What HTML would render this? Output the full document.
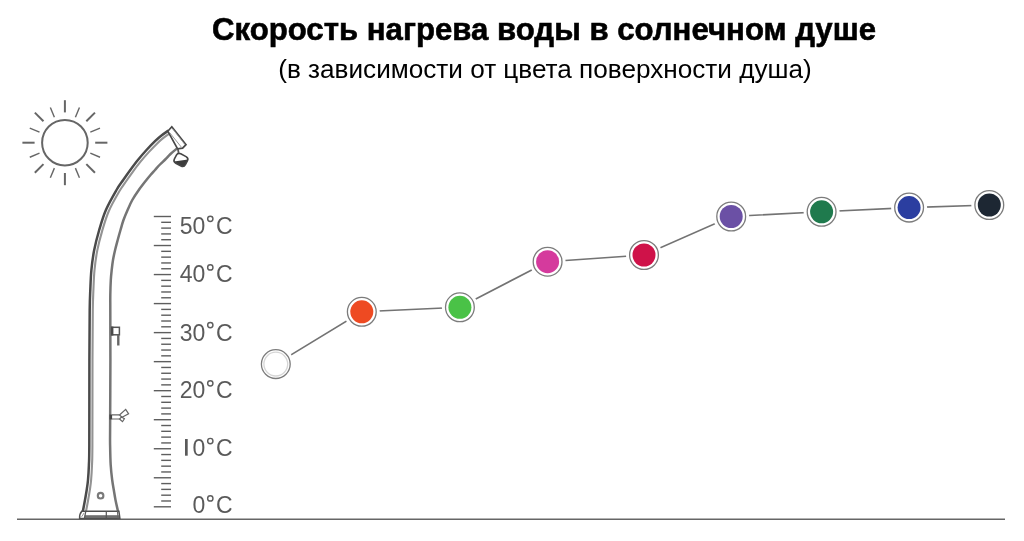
<!DOCTYPE html>
<html><head><meta charset="utf-8">
<style>
html,body{margin:0;padding:0;background:#fff;}
body{width:1024px;height:541px;overflow:hidden;position:relative;}
svg{position:absolute;left:0;top:0;will-change:transform;}
</style></head><body>
<svg width="1024" height="541" viewBox="0 0 1024 541">
<rect width="1024" height="541" fill="#fff"/>
<text x="212" y="40.2" font-family="Liberation Sans, sans-serif" font-weight="bold" font-size="32" fill="#000" stroke="#000" stroke-width="0.6" textLength="664" lengthAdjust="spacingAndGlyphs">Скорость нагрева воды в солнечном душе</text>
<text x="278.2" y="78.3" font-family="Liberation Sans, sans-serif" font-size="26" fill="#000" textLength="533.5" lengthAdjust="spacingAndGlyphs">(в зависимости от цвета поверхности душа)</text>
<g stroke="#666" stroke-linecap="butt" fill="none">
<circle cx="64.9" cy="142.7" r="22.8" stroke-width="2"/>
<line x1="64.90" y1="112.40" x2="64.90" y2="100.20" stroke-width="2.0"/>
<line x1="75.42" y1="117.29" x2="79.44" y2="107.59" stroke-width="1.4"/>
<line x1="86.33" y1="121.27" x2="94.95" y2="112.65" stroke-width="2.0"/>
<line x1="90.31" y1="132.18" x2="100.01" y2="128.16" stroke-width="1.4"/>
<line x1="95.20" y1="142.70" x2="107.40" y2="142.70" stroke-width="2.0"/>
<line x1="90.31" y1="153.22" x2="100.01" y2="157.24" stroke-width="1.4"/>
<line x1="86.33" y1="164.13" x2="94.95" y2="172.75" stroke-width="2.0"/>
<line x1="75.42" y1="168.11" x2="79.44" y2="177.81" stroke-width="1.4"/>
<line x1="64.90" y1="173.00" x2="64.90" y2="185.20" stroke-width="2.0"/>
<line x1="54.38" y1="168.11" x2="50.36" y2="177.81" stroke-width="1.4"/>
<line x1="43.47" y1="164.13" x2="34.85" y2="172.75" stroke-width="2.0"/>
<line x1="39.49" y1="153.22" x2="29.79" y2="157.24" stroke-width="1.4"/>
<line x1="34.60" y1="142.70" x2="22.40" y2="142.70" stroke-width="2.0"/>
<line x1="39.49" y1="132.18" x2="29.79" y2="128.16" stroke-width="1.4"/>
<line x1="43.47" y1="121.27" x2="34.85" y2="112.65" stroke-width="2.0"/>
<line x1="54.38" y1="117.29" x2="50.36" y2="107.59" stroke-width="1.4"/>
</g>
<g stroke="#5e5e5e" stroke-width="1.4">
<line x1="153.8" y1="216.50" x2="171" y2="216.50"/>
<line x1="161.2" y1="222.31" x2="171" y2="222.31"/>
<line x1="161.2" y1="228.11" x2="171" y2="228.11"/>
<line x1="161.2" y1="233.92" x2="171" y2="233.92"/>
<line x1="161.2" y1="239.72" x2="171" y2="239.72"/>
<line x1="153.8" y1="245.53" x2="171" y2="245.53"/>
<line x1="161.2" y1="251.34" x2="171" y2="251.34"/>
<line x1="161.2" y1="257.14" x2="171" y2="257.14"/>
<line x1="161.2" y1="262.95" x2="171" y2="262.95"/>
<line x1="161.2" y1="268.75" x2="171" y2="268.75"/>
<line x1="153.8" y1="274.56" x2="171" y2="274.56"/>
<line x1="161.2" y1="280.37" x2="171" y2="280.37"/>
<line x1="161.2" y1="286.17" x2="171" y2="286.17"/>
<line x1="161.2" y1="291.98" x2="171" y2="291.98"/>
<line x1="161.2" y1="297.78" x2="171" y2="297.78"/>
<line x1="153.8" y1="303.59" x2="171" y2="303.59"/>
<line x1="161.2" y1="309.40" x2="171" y2="309.40"/>
<line x1="161.2" y1="315.20" x2="171" y2="315.20"/>
<line x1="161.2" y1="321.01" x2="171" y2="321.01"/>
<line x1="161.2" y1="326.81" x2="171" y2="326.81"/>
<line x1="153.8" y1="332.62" x2="171" y2="332.62"/>
<line x1="161.2" y1="338.43" x2="171" y2="338.43"/>
<line x1="161.2" y1="344.23" x2="171" y2="344.23"/>
<line x1="161.2" y1="350.04" x2="171" y2="350.04"/>
<line x1="161.2" y1="355.84" x2="171" y2="355.84"/>
<line x1="153.8" y1="361.65" x2="171" y2="361.65"/>
<line x1="161.2" y1="367.46" x2="171" y2="367.46"/>
<line x1="161.2" y1="373.26" x2="171" y2="373.26"/>
<line x1="161.2" y1="379.07" x2="171" y2="379.07"/>
<line x1="161.2" y1="384.87" x2="171" y2="384.87"/>
<line x1="153.8" y1="390.68" x2="171" y2="390.68"/>
<line x1="161.2" y1="396.49" x2="171" y2="396.49"/>
<line x1="161.2" y1="402.29" x2="171" y2="402.29"/>
<line x1="161.2" y1="408.10" x2="171" y2="408.10"/>
<line x1="161.2" y1="413.90" x2="171" y2="413.90"/>
<line x1="153.8" y1="419.71" x2="171" y2="419.71"/>
<line x1="161.2" y1="425.52" x2="171" y2="425.52"/>
<line x1="161.2" y1="431.32" x2="171" y2="431.32"/>
<line x1="161.2" y1="437.13" x2="171" y2="437.13"/>
<line x1="161.2" y1="442.93" x2="171" y2="442.93"/>
<line x1="153.8" y1="448.74" x2="171" y2="448.74"/>
<line x1="161.2" y1="454.55" x2="171" y2="454.55"/>
<line x1="161.2" y1="460.35" x2="171" y2="460.35"/>
<line x1="161.2" y1="466.16" x2="171" y2="466.16"/>
<line x1="161.2" y1="471.96" x2="171" y2="471.96"/>
<line x1="153.8" y1="477.77" x2="171" y2="477.77"/>
<line x1="161.2" y1="483.58" x2="171" y2="483.58"/>
<line x1="161.2" y1="489.38" x2="171" y2="489.38"/>
<line x1="161.2" y1="495.19" x2="171" y2="495.19"/>
<line x1="161.2" y1="500.99" x2="171" y2="500.99"/>
<line x1="153.8" y1="506.80" x2="171" y2="506.80"/>
</g>
<g font-family="Liberation Sans, sans-serif" font-size="23" fill="#5a5a5a">
<text x="205.3" y="233.5" text-anchor="end">50</text>
<text x="216" y="233.5">C</text>
<circle cx="210.3" cy="218.8" r="2.65" fill="none" stroke="#5e5e5e" stroke-width="1.45"/>
<text x="205.3" y="282.4" text-anchor="end">40</text>
<text x="216" y="282.4">C</text>
<circle cx="210.3" cy="267.4" r="2.65" fill="none" stroke="#5e5e5e" stroke-width="1.45"/>
<text x="205.3" y="340.5" text-anchor="end">30</text>
<text x="216" y="340.5">C</text>
<circle cx="210.3" cy="325.1" r="2.65" fill="none" stroke="#5e5e5e" stroke-width="1.45"/>
<text x="205.3" y="398.2" text-anchor="end">20</text>
<text x="216" y="398.2">C</text>
<circle cx="210.3" cy="383.3" r="2.65" fill="none" stroke="#5e5e5e" stroke-width="1.45"/>
<text x="205.3" y="456.2" text-anchor="end">0</text>
<text x="216" y="456.2">C</text>
<circle cx="210.3" cy="441.0" r="2.65" fill="none" stroke="#5e5e5e" stroke-width="1.45"/>
<text x="205.3" y="513.3" text-anchor="end">0</text>
<text x="216" y="513.3">C</text>
<circle cx="210.3" cy="498.4" r="2.65" fill="none" stroke="#5e5e5e" stroke-width="1.45"/>
<rect x="185" y="439" width="2.7" height="16.7" fill="#5a5a5a"/>
</g>
<line x1="17" y1="519.2" x2="1005" y2="519.2" stroke="#666" stroke-width="1.6"/>
<!-- shower -->
<g fill="none" stroke="#555">
<path d="M170.30,133.02 C169.15,133.84 165.56,136.25 163.42,137.94 C161.28,139.62 159.89,140.77 157.45,143.13 C155.02,145.49 151.65,148.95 148.79,152.09 C145.93,155.22 142.97,158.66 140.31,161.95 C137.64,165.24 135.22,168.53 132.80,171.84 C130.37,175.14 128.02,178.48 125.75,181.76 C123.48,185.05 122.02,186.64 119.19,191.55 C116.35,196.46 111.58,204.68 108.75,211.23 C105.91,217.78 104.09,224.31 102.18,230.87 C100.26,237.43 98.52,244.02 97.24,250.59 C95.96,257.17 95.13,263.71 94.49,270.30 C93.84,276.89 93.68,283.51 93.40,290.13 C93.12,296.75 92.95,298.39 92.80,310.04 C92.65,321.69 92.57,337.51 92.50,360.01 C92.43,382.51 92.48,427.50 92.40,445.01 C92.32,462.53 92.22,459.24 92.00,465.12 C91.78,470.99 91.46,476.05 91.09,480.27 C90.72,484.50 90.27,487.08 89.77,490.46 C89.26,493.84 88.66,497.19 88.05,500.55 C87.45,503.91 86.55,508.63 86.14,510.63 C85.72,512.62 85.66,512.21 85.56,512.52" stroke-width="2.1" stroke="#939393"/>
<path d="M168.50,130.50 C167.33,131.33 163.70,133.77 161.50,135.50 C159.30,137.23 157.80,138.48 155.30,140.90 C152.80,143.32 149.40,146.82 146.50,150.00 C143.60,153.18 140.60,156.67 137.90,160.00 C135.20,163.33 132.75,166.67 130.30,170.00 C127.85,173.33 125.50,176.67 123.20,180.00 C120.90,183.33 119.38,185.00 116.50,190.00 C113.62,195.00 108.78,203.33 105.90,210.00 C103.02,216.67 101.15,223.33 99.20,230.00 C97.25,236.67 95.50,243.33 94.20,250.00 C92.90,256.67 92.05,263.33 91.40,270.00 C90.75,276.67 90.58,283.33 90.30,290.00 C90.02,296.67 89.85,298.33 89.70,310.00 C89.55,321.67 89.47,337.50 89.40,360.00 C89.33,382.50 89.38,427.50 89.30,445.00 C89.22,462.50 89.12,459.17 88.90,465.00 C88.68,470.83 88.37,475.83 88.00,480.00 C87.63,484.17 87.20,486.67 86.70,490.00 C86.20,493.33 85.60,496.67 85.00,500.00 C84.40,503.33 83.50,508.07 83.10,510.00 C82.70,511.93 82.68,511.33 82.60,511.60" stroke-width="2.5" stroke="#4a4a4a"/>
<path d="M177.00,148.50 C175.92,149.42 172.47,152.17 170.50,154.00 C168.53,155.83 166.95,157.75 165.20,159.50 C163.45,161.25 161.70,162.75 160.00,164.50 C158.30,166.25 156.58,168.25 155.00,170.00 C153.42,171.75 151.93,173.33 150.50,175.00 C149.07,176.67 148.35,177.50 146.40,180.00 C144.45,182.50 141.15,186.67 138.80,190.00 C136.45,193.33 134.17,196.67 132.30,200.00 C130.43,203.33 129.07,206.67 127.60,210.00 C126.13,213.33 124.68,216.67 123.50,220.00 C122.32,223.33 121.47,226.67 120.50,230.00 C119.53,233.33 118.60,236.67 117.70,240.00 C116.80,243.33 115.88,246.67 115.10,250.00 C114.32,253.33 113.57,256.67 113.00,260.00 C112.43,263.33 112.07,266.67 111.70,270.00 C111.33,273.33 111.03,275.83 110.80,280.00 C110.57,284.17 110.38,290.00 110.30,295.00 C110.22,300.00 110.28,299.17 110.30,310.00 C110.32,320.83 110.43,340.00 110.40,360.00 C110.37,380.00 110.15,415.83 110.10,430.00 C110.05,444.17 110.00,439.17 110.10,445.00 C110.20,450.83 110.35,459.17 110.70,465.00 C111.05,470.83 111.68,475.83 112.20,480.00 C112.72,484.17 113.25,486.67 113.80,490.00 C114.35,493.33 114.85,496.67 115.50,500.00 C116.15,503.33 117.28,508.07 117.70,510.00 C118.12,511.93 117.95,511.33 118.00,511.60" stroke-width="2.5" stroke="#757575"/>
<!-- end cap -->
<path d="M167.8,131.2 L171.8,126.8 L186,144.6 L182.6,148.2 L177.6,148.9 Z" stroke-width="1.7" stroke="#474747" fill="#fff"/>
<path d="M169.6,132.6 L181.4,147.2" stroke-width="0.9" stroke="#8a8a8a"/>
<path d="M172.6,128.8 L184.6,144.2" stroke-width="0.8" stroke="#9a9a9a"/>
<!-- nozzle -->
<path d="M177.9,148.6 L178.6,152.8" stroke-width="1.8" stroke="#555"/>
<g transform="translate(180.9,159.9) rotate(28)">
<clipPath id="nz"><rect x="-6.2" y="-5.3" width="12.4" height="10.6" rx="3.2"/></clipPath>
<rect x="-6.2" y="-5.3" width="12.4" height="10.6" rx="3.2" fill="#fff" stroke="none"/>
<g clip-path="url(#nz)"><rect x="-9" y="0.6" width="18" height="9" fill="#3c3c3c" stroke="none" transform="rotate(-36)"/></g>
<rect x="-6.2" y="-5.3" width="12.4" height="10.6" rx="3.2" stroke-width="1.6" stroke="#454545" fill="none"/>
</g>
<!-- lever -->
<rect x="111.6" y="327.3" width="7.8" height="7.5" stroke-width="1.5" fill="#fff" stroke="#555"/>
<rect x="111" y="326.6" width="2.4" height="8.9" fill="#4a4a4a" stroke="none"/>
<line x1="118.3" y1="335" x2="118.3" y2="345.5" stroke-width="2.4" stroke="#666"/>
<!-- tap -->
<rect x="109.5" y="414.5" width="2.6" height="5" fill="#444" stroke="none"/>
<path d="M112,414.9 L119.5,414.9 M112,419 L119.5,419" stroke-width="1.2" stroke="#666"/>
<path d="M119.5,415 L125.7,409.3 L128.6,413.8 L122,417.2 Z" stroke-width="1.2" fill="#fff" stroke="#666"/>
<path d="M119.5,419 L122.5,421.7 L124.4,418.7 L121.5,417 Z" stroke-width="1.2" fill="#fff" stroke="#666"/>
<!-- base -->
<path d="M81.8,511.3 L118.9,511.3 L119.9,518.6 L79.6,518.6 Q79.3,514 81.8,511.3 Z" stroke-width="1.5" fill="#fff" stroke="#505050"/>
<rect x="84.6" y="515.2" width="34.6" height="2.8" fill="#6e6e6e" stroke="none"/>
<line x1="106.3" y1="511.3" x2="106.3" y2="518.6" stroke-width="1.2" stroke="#555"/>
<line x1="85.8" y1="511.3" x2="84.4" y2="518.4" stroke-width="1.2" stroke="#555"/>
<line x1="117.4" y1="511.3" x2="118" y2="518.4" stroke-width="1" stroke="#666"/>
<path d="M81.6,516.8 L84.2,512.8" stroke-width="0.9" stroke="#888"/>
<circle cx="100.6" cy="495.7" r="2.8" stroke-width="2.1" stroke="#7a7a7a"/>
</g>
<!-- chart -->
<polyline points="275.8,364.1 361.8,311.8 459.9,307.3 547.6,261.7 644.0,255.0 731.2,216.5 821.6,211.8 909.1,207.6 989.3,205.0" fill="none" stroke="#737373" stroke-width="1.65"/>
<circle cx="275.8" cy="364.1" r="18" fill="#fff"/>
<circle cx="275.8" cy="364.1" r="14.4" fill="#fff" stroke="#7c7c7c" stroke-width="1.3"/>
<circle cx="275.8" cy="364.1" r="11.9" fill="#fff" stroke="#d6d6d6" stroke-width="1.3"/>
<circle cx="361.8" cy="311.8" r="18" fill="#fff"/>
<circle cx="361.8" cy="311.8" r="14.4" fill="#fff" stroke="#7c7c7c" stroke-width="1.3"/>
<circle cx="361.8" cy="311.8" r="11.5" fill="#EE4A22"/>
<circle cx="459.9" cy="307.3" r="18" fill="#fff"/>
<circle cx="459.9" cy="307.3" r="14.4" fill="#fff" stroke="#7c7c7c" stroke-width="1.3"/>
<circle cx="459.9" cy="307.3" r="11.5" fill="#4AC247"/>
<circle cx="547.6" cy="261.7" r="18" fill="#fff"/>
<circle cx="547.6" cy="261.7" r="14.4" fill="#fff" stroke="#7c7c7c" stroke-width="1.3"/>
<circle cx="547.6" cy="261.7" r="11.5" fill="#D53A9D"/>
<circle cx="644.0" cy="255.0" r="18" fill="#fff"/>
<circle cx="644.0" cy="255.0" r="14.4" fill="#fff" stroke="#7c7c7c" stroke-width="1.3"/>
<circle cx="644.0" cy="255.0" r="11.5" fill="#CF1249"/>
<circle cx="731.2" cy="216.5" r="18" fill="#fff"/>
<circle cx="731.2" cy="216.5" r="14.4" fill="#fff" stroke="#7c7c7c" stroke-width="1.3"/>
<circle cx="731.2" cy="216.5" r="11.5" fill="#6B50A5"/>
<circle cx="821.6" cy="211.8" r="18" fill="#fff"/>
<circle cx="821.6" cy="211.8" r="14.4" fill="#fff" stroke="#7c7c7c" stroke-width="1.3"/>
<circle cx="821.6" cy="211.8" r="11.5" fill="#1F7A4D"/>
<circle cx="909.1" cy="207.6" r="18" fill="#fff"/>
<circle cx="909.1" cy="207.6" r="14.4" fill="#fff" stroke="#7c7c7c" stroke-width="1.3"/>
<circle cx="909.1" cy="207.6" r="11.5" fill="#2B3EA0"/>
<circle cx="989.3" cy="205.0" r="18" fill="#fff"/>
<circle cx="989.3" cy="205.0" r="14.4" fill="#fff" stroke="#7c7c7c" stroke-width="1.3"/>
<circle cx="989.3" cy="205.0" r="11.5" fill="#1D2733"/>
</svg>
</body></html>
